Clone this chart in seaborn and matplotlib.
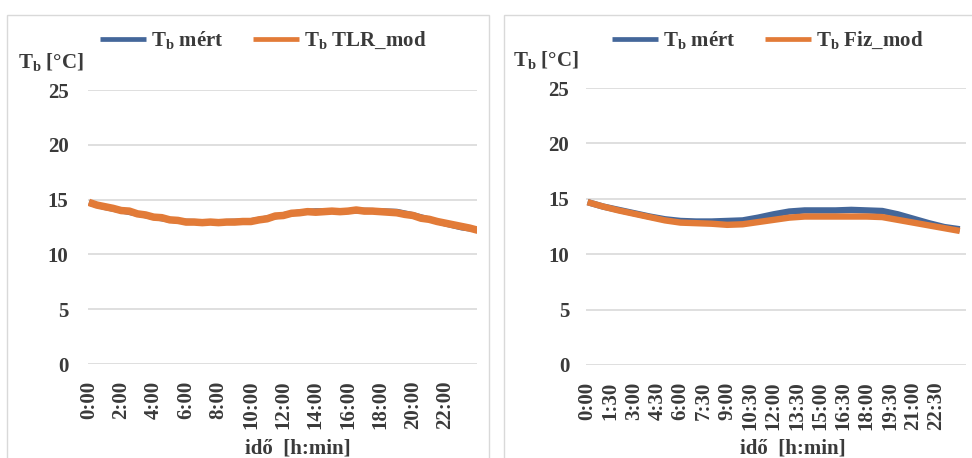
import numpy as np
import pandas as pd
import matplotlib
matplotlib.use("Agg")
import matplotlib.pyplot as plt
import seaborn as sns
from matplotlib.patches import Rectangle

# ---------------- data ----------------
hours_meas = [0, 1, 2, 3, 4, 5, 6, 7, 8, 9, 10, 11, 12, 13, 14, 15, 16, 17, 18, 19, 20, 21, 22, 23, 24]
t_mert = [14.7, 14.3, 14.0, 13.7, 13.4, 13.15, 13.0, 12.95, 12.95, 13.0, 13.05, 13.3, 13.6, 13.85,
          13.95, 13.95, 13.95, 14.0, 13.95, 13.9, 13.6, 13.2, 12.8, 12.45, 12.25]

hours_tlr = [0.0, 0.5, 1.0, 1.5, 2.0, 2.5, 3.0, 3.5, 4.0, 4.5, 5.0, 5.5, 6.0, 6.5, 7.0, 7.5, 8.0, 8.5,
             9.0, 9.5, 10.0, 10.5, 11.0, 11.5, 12.0, 12.5, 13.0, 13.5, 14.0, 14.5, 15.0, 15.5, 16.0,
             16.5, 17.0, 17.5, 18.0, 18.5, 19.0, 19.5, 20.0, 20.5, 21.0, 21.5, 22.0, 22.5, 23.0, 23.5, 24.0]
t_tlr = [14.75, 14.5, 14.35, 14.2, 14.0, 13.95, 13.7, 13.6, 13.4, 13.35, 13.15, 13.1, 12.95, 12.95,
         12.9, 12.95, 12.9, 12.95, 12.95, 13.0, 13.0, 13.15, 13.25, 13.5, 13.55, 13.75, 13.8, 13.9,
         13.85, 13.9, 13.95, 13.9, 13.95, 14.05, 13.95, 13.95, 13.9, 13.85, 13.8, 13.65, 13.55, 13.3,
         13.2, 13.0, 12.85, 12.7, 12.55, 12.4, 12.2]

t_fiz = [14.7, 14.3, 13.95, 13.65, 13.35, 13.05, 12.85, 12.8, 12.75, 12.65, 12.7, 12.9, 13.1, 13.3,
         13.4, 13.4, 13.4, 13.4, 13.4, 13.35, 13.1, 12.85, 12.6, 12.35, 12.1]

left_ticks = ["0:00", "2:00", "4:00", "6:00", "8:00", "10:00", "12:00", "14:00", "16:00", "18:00",
              "20:00", "22:00"]
right_ticks = ["0:00", "1:30", "3:00", "4:30", "6:00", "7:30", "9:00", "10:30", "12:00", "13:30",
               "15:00", "16:30", "18:00", "19:30", "21:00", "22:30"]
y_ticks = [0, 5, 10, 15, 20, 25]

lbl_mert = r"T$_\mathrm{b}$ mért"
lbl_tlr = r"T$_\mathrm{b}$ TLR_mod"
lbl_fiz = r"T$_\mathrm{b}$ Fiz_mod"
y_label = r"T$_\mathrm{b}$ [°C]"
x_label = "idő  [h:min]"

BLUE = "#44679A"
ORANGE = "#E27B38"
GRID = "#D9D9D9"
TXT = "#3A3A3A"

# ---------------- style ----------------
sns.set_theme(style="white")
plt.rcParams["font.family"] = ["Liberation Serif", "DejaVu Serif"]
plt.rcParams["font.weight"] = "bold"
plt.rcParams["mathtext.fontset"] = "custom"
plt.rcParams["mathtext.rm"] = "Liberation Serif"
plt.rcParams["mathtext.it"] = "Liberation Serif:italic"
plt.rcParams["mathtext.bf"] = "Liberation Serif:bold"

W, H = 972, 458
fig = plt.figure(figsize=(W / 100, H / 100), dpi=100)
FS = 15


def to_hours(s):
    h, m = s.split(":")
    return int(h) + int(m) / 60.0


def fx(px):
    return px / W


def fy(py):
    return 1 - py / H


# frames around each chart
fig.patches.append(Rectangle((fx(7), fy(470)), fx(489) - fx(7), fy(15) - fy(470),
                             transform=fig.transFigure, fill=False, edgecolor=GRID, lw=1.0))
fig.patches.append(Rectangle((fx(504), fy(470)), fx(985) - fx(504), fy(15) - fy(470),
                             transform=fig.transFigure, fill=False, edgecolor=GRID, lw=1.0))

df_meas = pd.DataFrame({"t": hours_meas, "v": t_mert})
df_tlr = pd.DataFrame({"t": hours_tlr, "v": t_tlr})
df_fiz = pd.DataFrame({"t": hours_meas, "v": t_fiz})

panels = [
    dict(rect=(fx(88), fy(364), fx(477) - fx(88), fy(90) - fy(364)), model=df_tlr, mlabel=lbl_tlr,
         ticks=left_ticks, xlim=(-0.05, 23.95), lw_m=4.2, lw_mod=5.4, leg_x=263, ylab_x=18,
         ylab_y=62, xlab_x=298, ypad=14),
    dict(rect=(fx(586), fy(365), fx(966) - fx(586), fy(88) - fy(365)), model=df_fiz, mlabel=lbl_fiz,
         ticks=right_ticks, xlim=(-0.1, 24.4), lw_m=4.6, lw_mod=4.6, leg_x=768, ylab_x=513,
         ylab_y=60, xlab_x=793, ypad=12),
]

for p in panels:
    ax = fig.add_axes(p["rect"])
    sns.lineplot(data=df_meas, x="t", y="v", ax=ax, color=BLUE, lw=p["lw_m"], label=lbl_mert,
                 solid_capstyle="butt")
    sns.lineplot(data=p["model"], x="t", y="v", ax=ax, color=ORANGE, lw=p["lw_mod"],
                 label=p["mlabel"], solid_capstyle="butt")
    ax.set_ylim(0, 25)
    ax.set_xlim(*p["xlim"])
    ax.set_yticks(y_ticks)
    ax.set_yticklabels([str(v) for v in y_ticks])
    ax.set_xticks([to_hours(s) for s in p["ticks"]])
    ax.set_xticklabels(p["ticks"], rotation=90)
    ax.tick_params(axis="x", length=0, pad=12, labelsize=FS, labelcolor=TXT)
    ax.tick_params(axis="y", length=0, pad=p["ypad"], labelsize=FS, labelcolor=TXT)
    for lab in ax.get_xticklabels() + ax.get_yticklabels():
        lab.set_fontweight("bold")
    ax.grid(axis="y", color=GRID, lw=1.2)
    ax.grid(axis="x", visible=False)
    for s in ax.spines.values():
        s.set_visible(False)
    ax.set_ylabel("")
    ax.set_xlabel(x_label, fontsize=FS, fontweight="bold", color=TXT)
    xl_ax = (fx(p["xlab_x"]) - p["rect"][0]) / p["rect"][2]
    yl_ax = (fy(449) - p["rect"][1]) / p["rect"][3]
    ax.xaxis.set_label_coords(xl_ax, yl_ax)
    ax.xaxis.label.set_va("center")
    handles, labels = ax.get_legend_handles_labels()
    leg = ax.legend(handles, labels, loc="center", bbox_to_anchor=(fx(p["leg_x"]), fy(40)),
                    bbox_transform=fig.transFigure, ncol=2, frameon=False, fontsize=FS,
                    handlelength=2.2, handletextpad=0.25, columnspacing=1.4,
                    prop={"weight": "bold", "size": FS})
    for ln in leg.get_lines():
        ln.set_linewidth(3.4)
    for t in leg.get_texts():
        t.set_color(TXT)
    fig.text(fx(p["ylab_x"]), fy(p["ylab_y"]), y_label, ha="left", va="center", fontsize=FS,
             fontweight="bold", color=TXT)

fig.savefig("out.png", dpi=100)
